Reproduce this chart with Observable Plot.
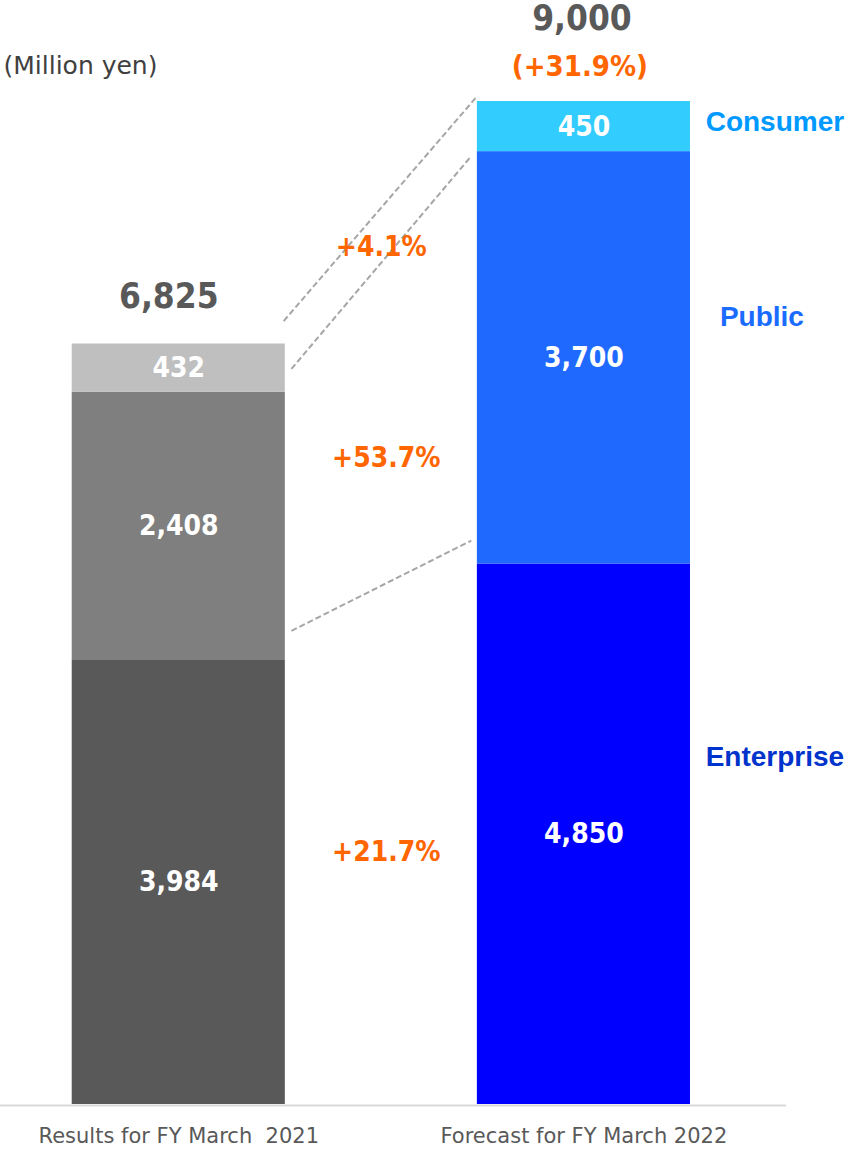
<!DOCTYPE html>
<html><head><meta charset="utf-8">
<script src="https://cdn.jsdelivr.net/npm/d3@7"></script>
<script src="https://cdn.jsdelivr.net/npm/@observablehq/plot@0.6"></script>
<style>
body{margin:0;background:#fff;}
#chart{width:849px;height:1153px;}
#chart svg{overflow:visible;}
.cond text, text.cond{font-stretch:condensed;}
</style></head><body><div id="chart"></div>
<script>
// ---- data ----
const periods = ["Results for FY March  2021", "Forecast for FY March 2022"];
const series = ["Enterprise", "Public", "Consumer"];
const results2021 = [3984, 2408, 432];
const forecast2022 = [4850, 3700, 450];
const totals = [6825, 9000];
const totalGrowth = "(+31.9%)";
const segmentGrowth = ["+21.7%", "+53.7%", "+4.1%"];
const connectorFrom = [4250, 6600, 7030];
const connectorTo = [5060, 8510, 9050];
const unitLabel = "(Million yen)";

// ---- styles ----
const barColors = [
  {Enterprise: "#595959", Public: "#7f7f7f", Consumer: "#bfbfbf"},
  {Enterprise: "#0000ff", Public: "#1f69ff", Consumer: "#33ccff"}
];
const seriesLabelColor = {Enterprise: "#0033cc", Public: "#1a6bff", Consumer: "#0099ff"};
const seriesLabelOffset = {Enterprise: [191, -77], Public: [178, -41], Consumer: [191, -5]};
const growthOffset = [[5, -6], [5, 16], [0, 0]];
const halfW = 0.263;
const condFont = "'DejaVu Sans Condensed', 'DejaVu Sans', sans-serif";
const orange = "#ff6600";

// ---- build rows ----
const values = [results2021, forecast2022];
const rows = [];
values.forEach((vals, i) => {
  let cum = 0;
  vals.forEach((v, j) => {
    rows.push({period: i, series: series[j], value: v, y1: cum, y2: cum + v,
      mid: cum + v / 2, color: barColors[i][series[j]]});
    cum += v;
  });
});
const mids = i => rows.filter(r => r.period === i).map(r => r.mid);
const growthRows = segmentGrowth.map((g, j) => ({label: g, y: (mids(0)[j] + mids(1)[j]) / 2, j}));
const connectors = connectorFrom.map((f, k) => ({from: f, to: connectorTo[k], k}));
const rightRows = rows.filter(r => r.period === 1);

const marks = [
  Plot.rectY(rows, {x1: d => d.period - halfW, x2: d => d.period + halfW, y1: "y1", y2: "y2", fill: "color"}),
  Plot.ruleY([0], {stroke: "#d9d9d9", strokeWidth: 2, dy: 1}),
  Plot.link(connectors, {
    x1: d => halfW + (d.k === 2 ? -0.004 : 0.015),
    x2: d => 1 - halfW - (d.k === 2 ? 0 : 0.015),
    y1: "from", y2: "to",
    stroke: "#a6a6a6", strokeWidth: 2, strokeDasharray: "6,3"
  }),
  Plot.text(rows, {x: "period", y: "mid", text: d => d3.format(",")(d.value),
    fill: "white", fontSize: 28, fontWeight: "bold", fontFamily: condFont, className: "cond"}),
  Plot.text([totals[0]], {x: () => 0, y: d => d, text: d => d3.format(",")(d), dx: -10, dy: -47,
    fill: "#595959", fontSize: 35, fontWeight: "bold", fontFamily: condFont, className: "cond"}),
  Plot.text([totals[1]], {x: () => 1, y: d => d, text: d => d3.format(",")(d), dx: -2, dy: -83,
    fill: "#595959", fontSize: 35, fontWeight: "bold", fontFamily: condFont, className: "cond"}),
  Plot.text([totalGrowth], {x: () => 1, y: () => totals[1], text: d => d, dx: -4, dy: -35,
    fill: orange, fontSize: 29, fontWeight: "bold", fontFamily: condFont, className: "cond"}),
  ...growthRows.map(g => Plot.text([g], {x: () => 0.5, y: "y", text: "label",
    dx: growthOffset[g.j][0], dy: growthOffset[g.j][1],
    fill: orange, fontSize: 28, fontWeight: "bold", fontFamily: condFont, className: "cond"})),
  ...rightRows.map(r => Plot.text([r], {x: "period", y: "mid", text: "series",
    dx: seriesLabelOffset[r.series][0], dy: seriesLabelOffset[r.series][1],
    fill: seriesLabelColor[r.series], fontSize: 28, fontWeight: "bold",
    fontFamily: "'Liberation Sans', Arial, sans-serif"})),
  Plot.text(periods, {x: (d, i) => i, y: () => 0, text: d => d, dy: 32,
    fill: "#595959", fontSize: 21, fontFamily: "'DejaVu Sans', sans-serif"}),
  Plot.text([unitLabel], {x: () => -0.44, y: () => totals[1], text: d => d, dx: 3, dy: -36,
    textAnchor: "start", fill: "#404040", fontSize: 25, fontFamily: "'DejaVu Sans', sans-serif"})
];

const chart = Plot.plot({
  width: 849, height: 1153,
  marginLeft: 0, marginRight: 63, marginTop: 101, marginBottom: 49,
  x: {domain: [-0.44, 1.5], axis: null},
  y: {domain: [0, 9000], axis: null},
  color: {type: "identity"},
  style: {background: "white", overflow: "visible"},
  marks
});
document.getElementById("chart").appendChild(chart);
</script>
</body></html>
